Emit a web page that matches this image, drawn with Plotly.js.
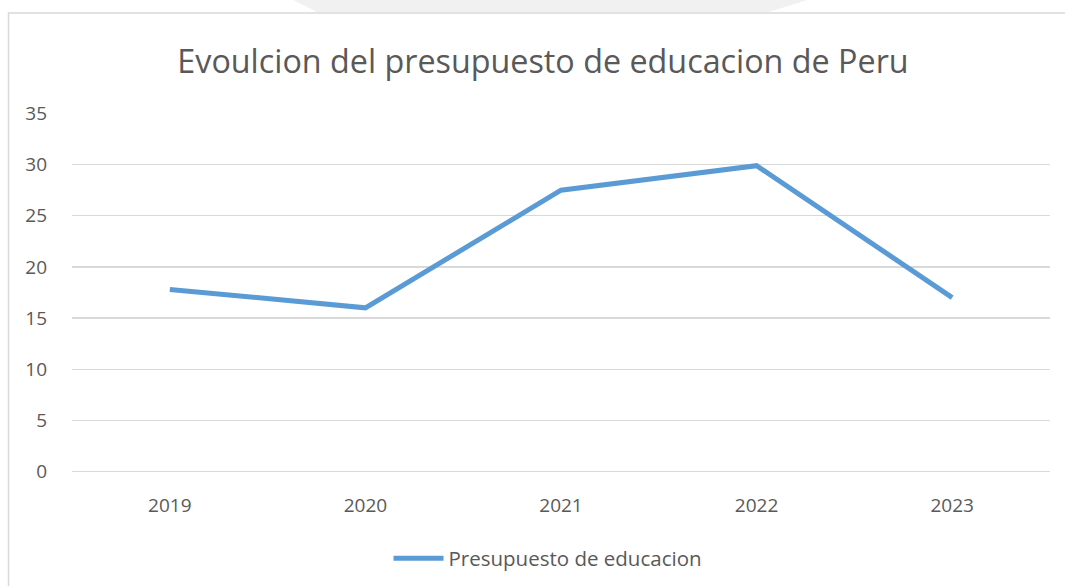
<!DOCTYPE html>
<html>
<head>
<meta charset="utf-8">
<script src="https://cdn.plot.ly/plotly-3.0.1.min.js"></script>
<style>html,body{margin:0;padding:0;background:#fff;}#chart{width:1065px;height:586px;}</style>
</head>
<body>
<div id="chart"></div>
<script>
const years = ['2019', '2020', '2021', '2022', '2023'];
const presupuesto = [17.8, 16.0, 27.5, 29.9, 17.0];
const seriesName = 'Presupuesto de educacion';
const chartTitle = 'Evoulcion del presupuesto de educacion de Peru';
const yTicks = [0, 5, 10, 15, 20, 25, 30, 35];

const FONT = 'Open Sans, Noto Sans, sans-serif';
const TXT = '#595959';

// plot area in pixels: left 72, right 1050, top 114, bottom 471
const L = 72, R = 1050, T = 114, B = 471;
const px = x => (x - L) / (R - L);
const py = y => (B - y) / (B - T);

const trace = {
  x: years,
  y: presupuesto,
  type: 'scatter',
  mode: 'lines',
  name: seriesName,
  line: {color: '#5B9BD5', width: 5}
};

const layout = {
  width: 1065,
  height: 586,
  paper_bgcolor: '#ffffff',
  plot_bgcolor: '#ffffff',
  margin: {l: L, r: 1065 - R, t: T - 1, b: 586 - B - 1, pad: 0, autoexpand: false},
  font: {family: FONT, color: TXT},
  title: {
    text: chartTitle,
    font: {family: FONT, size: 32.3, color: TXT},
    x: 543 / 1065, xanchor: 'center',
    y: 1 - 62 / 586, yref: 'container', yanchor: 'middle'
  },
  xaxis: {
    type: 'category',
    range: [-0.5, years.length - 0.5],
    showgrid: false,
    zeroline: false,
    showline: false,
    ticks: '',
    ticklabelstandoff: 20,
    tickfont: {family: FONT, size: 19, color: TXT},
    fixedrange: true,
    automargin: false
  },
  yaxis: {
    range: [-0.05, 35.05],
    tickvals: yTicks,
    ticktext: yTicks.map(String),
    showgrid: true,
    gridcolor: '#d9d9d9',
    gridwidth: 1.3,
    zeroline: true,
    zerolinecolor: '#d9d9d9',
    zerolinewidth: 1.3,
    showline: false,
    ticks: '',
    ticklabelstandoff: 24,
    tickfont: {family: FONT, size: 19, color: TXT},
    fixedrange: true,
    automargin: false
  },
  showlegend: true,
  legend: {
    orientation: 'h',
    x: px(548), xanchor: 'center',
    y: py(557), yanchor: 'middle',
    font: {family: FONT, size: 20.5, color: TXT},
    itemwidth: 50,
    bgcolor: 'rgba(0,0,0,0)'
  },
  shapes: [
    {
      type: 'path', xref: 'paper', yref: 'paper',
      path: `M ${px(290)} ${py(0)} L ${px(318)} ${py(14)} L ${px(767)} ${py(14)} L ${px(813)} ${py(0)} Z`,
      fillcolor: '#f1f1f1', line: {width: 0}, layer: 'below'
    },
    {
      type: 'rect', xref: 'paper', yref: 'paper',
      x0: px(8.5), x1: px(1100), y0: py(650), y1: py(14.5),
      line: {color: '#d9d9d9', width: 1.5}, fillcolor: 'rgba(0,0,0,0)', layer: 'below'
    }
  ]
};

Plotly.newPlot('chart', [trace], layout, {displayModeBar: false, staticPlot: true});
</script>
</body>
</html>
